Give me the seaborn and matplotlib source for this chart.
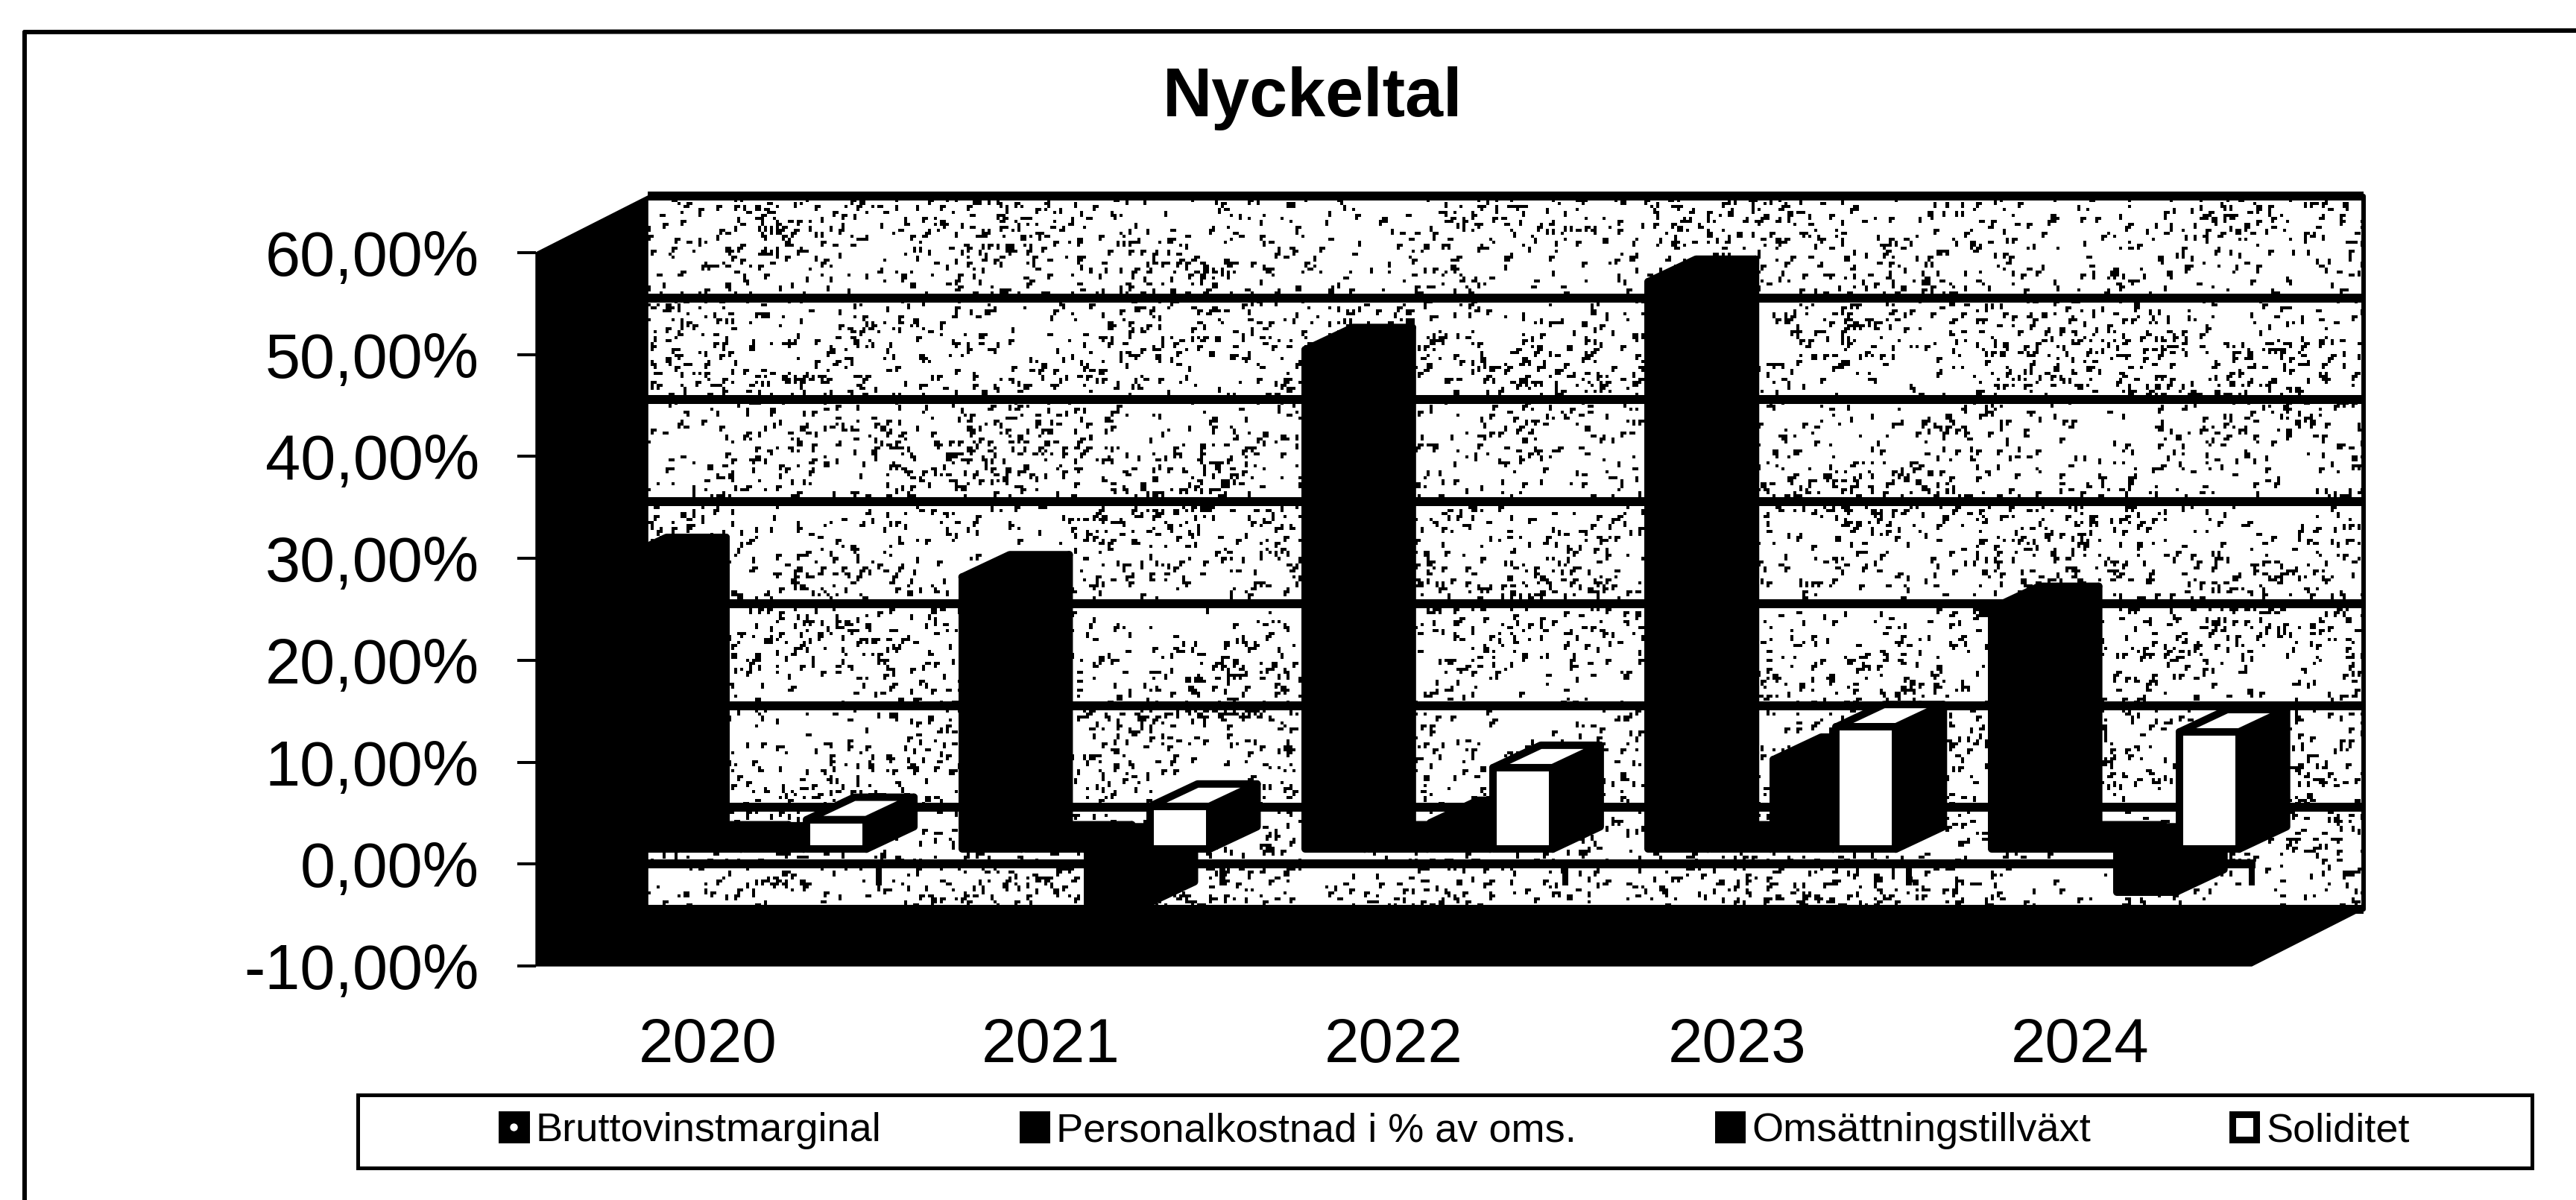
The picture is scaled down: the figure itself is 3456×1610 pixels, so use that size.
import numpy as np
import pandas as pd
import matplotlib
matplotlib.use('Agg')
import matplotlib.pyplot as plt
import seaborn as sns
from matplotlib.lines import Line2D
from matplotlib.patches import Patch, Polygon, Rectangle
from matplotlib.transforms import Affine2D

years = ['2020', '2021', '2022', '2023', '2024']
series_names = ['Bruttovinstmarginal', 'Personalkostnad i % av oms.', 'Omsättningstillväxt', 'Soliditet']
bruttovinst = [28.4, 26.7, 49.0, 55.7, 23.6]
personal = [0.2, 0.2, 0.2, 0.2, 0.2]
tillvaxt = [0.1, -5.4, 2.6, 8.8, -4.2]
soliditet = [2.9, 4.2, 8.0, 12.0, 11.5]
y_ticks = [60, 50, 40, 30, 20, 10, 0, -10]
y_labels = ['60,00%', '50,00%', '40,00%', '30,00%', '20,00%', '10,00%', '0,00%', '-10,00%']

W, H = 3456, 1610
PX = 0.72  # points per pixel at dpi 100


def wall_texture(rows, cols):
    # speckle for the back wall, only decoration, no chart values in it
    j, i = np.meshgrid(np.arange(cols), np.arange(rows))
    h1 = np.sin(i * 12.9898 + j * 78.233) * 43758.5453
    h2 = np.sin(i * 39.346 + j * 11.135) * 24634.6345
    h1 = h1 - np.floor(h1)
    h2 = h2 - np.floor(h2)
    limit = 0.935 + 0.045 * np.sin(i / 11.0 + j / 37.0) * np.cos(j / 19.0)
    spots = h1 > limit
    strokes = np.roll(spots, 1, axis=0) & (h2 > 0.45) | np.roll(spots, 1, axis=1) & (h2 < 0.4)
    return (spots | strokes).astype(float)


sns.set_theme(style='white')
plt.rcParams['font.family'] = 'Liberation Sans'

df = pd.DataFrame({
    'year': years * 4,
    'series': [name for name in series_names for _ in years],
    'value': bruttovinst + personal + tillvaxt + soliditet,
})
colors = dict(zip(series_names, ['black', 'black', 'black', 'white']))

fig = plt.figure(figsize=(W / 100, H / 100), dpi=100, facecolor='white')
ax = fig.add_axes([719 / W, 1 - 1296 / H, (3021 - 719) / W, (1296 - 339) / H])

bar_lw = 10 * PX
sns.barplot(data=df, x='year', y='value', hue='series', order=years, hue_order=series_names,
            palette=colors, width=0.73, gap=0.05, errorbar=None, edgecolor='black',
            linewidth=bar_lw, legend=False, ax=ax)
ax.set_xlim(-0.5, 4.5)
ax.set_ylim(-10, 60)

# depth of the fake 3d box, in data units
wall_dx, wall_dy = 0.326, 5.56
bar_dx, bar_dy = 0.139, 2.2
shift = Affine2D().translate(0.102, 1.46) + ax.transData

x0, x1 = -0.5, 4.5
y0, y1 = -10, 60
ax.add_patch(Polygon([(x0, y0), (x0, y1), (x0 + wall_dx, y1 + wall_dy), (x0 + wall_dx, y0 + wall_dy)],
                     color='black', zorder=4, clip_on=False))
ax.add_patch(Polygon([(x0, y0), (x1, y0), (x1 + wall_dx, y0 + wall_dy), (x0 + wall_dx, y0 + wall_dy)],
                     color='black', zorder=4, clip_on=False))
ax.imshow(wall_texture(239, 575), cmap='gray_r', vmin=0, vmax=1, interpolation='nearest', aspect='auto',
          extent=(x0 + wall_dx, x1 + wall_dx, y0 + wall_dy, y1 + wall_dy), zorder=1, clip_on=False)
ax.set_xlim(x0, x1)
ax.set_ylim(y0, y1)

# gridlines on the back wall
for v in y_ticks:
    ax.plot([x0 + wall_dx, x1 + wall_dx], [v + wall_dy] * 2, color='black', lw=12 * PX, zorder=2,
            clip_on=False, solid_capstyle='butt')
ax.plot([x1 + wall_dx] * 2, [y0 + wall_dy, y1 + wall_dy], color='black', lw=6 * PX, zorder=2, clip_on=False)

# category axis sits on the front plane at zero
ax.plot([x0 + wall_dx, x1 + 0.01], [0, 0], color='black', lw=12 * PX, zorder=5, clip_on=False,
        solid_capstyle='butt')
for b in np.arange(1, 6) - 0.5:
    ax.plot([b, b], [0, -2.1], color='black', lw=8 * PX, zorder=5, clip_on=False, solid_capstyle='butt')

for s, container in enumerate(ax.containers):
    z = 10 + 2 * s
    for patch in container:
        left = patch.get_x()
        right = left + patch.get_width()
        value = patch.get_y() + patch.get_height()
        low, up = min(0, value), max(0, value)
        patch.set_transform(shift)
        patch.set_clip_on(False)
        patch.set_zorder(z + 1)
        patch.set_joinstyle('round')
        side = [(right, low), (right + bar_dx, low + bar_dy), (right + bar_dx, up + bar_dy), (right, up)]
        top = [(left, up), (right, up), (right + bar_dx, up + bar_dy), (left + bar_dx, up + bar_dy)]
        ax.add_patch(Polygon(side, facecolor='black', edgecolor='black', lw=bar_lw, joinstyle='round',
                             transform=shift, zorder=z, clip_on=False))
        ax.add_patch(Polygon(top, facecolor=patch.get_facecolor(), edgecolor='black', lw=bar_lw,
                             joinstyle='round', transform=shift, zorder=z, clip_on=False))

ax.set_yticks(y_ticks, y_labels)
ax.set_xlabel('')
ax.set_ylabel('')
ax.tick_params(axis='y', left=True, length=25 * PX, width=4 * PX, color='black', pad=51 * PX,
               labelsize=61, labelcolor='black')
ax.tick_params(axis='x', bottom=False, pad=60 * PX, labelsize=60, labelcolor='black')
sns.despine(ax=ax, left=True, bottom=True)

fig.text(1761 / W, 1 - 132 / H, 'Nyckeltal', fontsize=66, fontweight='bold', ha='center', va='center', color='black')

# outer frame, the scan has only a top and a left line
fig.add_artist(Line2D([33 / W, 1], [1 - 43 / H, 1 - 41 / H], color='black', lw=6 * PX))
fig.add_artist(Line2D([33 / W, 33 / W], [0, 1 - 43 / H], color='black', lw=6 * PX))

fig.add_artist(Rectangle((480 / W, 1 - 1567 / H), (3397 - 480) / W, (1567 - 1469) / H, fill=False,
                         edgecolor='black', lw=5 * PX, transform=fig.transFigure))
handles = [Patch(facecolor=colors[name], edgecolor='black', lw=9 * PX) for name in series_names]
leg = fig.legend(handles, series_names, ncol=4, loc='center left', bbox_to_anchor=(673 / W, 1 - 1517 / H),
                 frameon=False, fontsize=39, handlelength=0.6, handleheight=0.6, handletextpad=0.24,
                 columnspacing=3.5, borderpad=0, borderaxespad=0, labelcolor='black')

fig.canvas.draw()
box = leg.legend_handles[0].get_window_extent()
fig.add_artist(Line2D([(box.x0 + box.x1) / 2 / W], [(box.y0 + box.y1) / 2 / H], marker='o', ms=9 * PX,
                      color='white', lw=0, zorder=6))

fig.savefig('out.png', dpi=100)
